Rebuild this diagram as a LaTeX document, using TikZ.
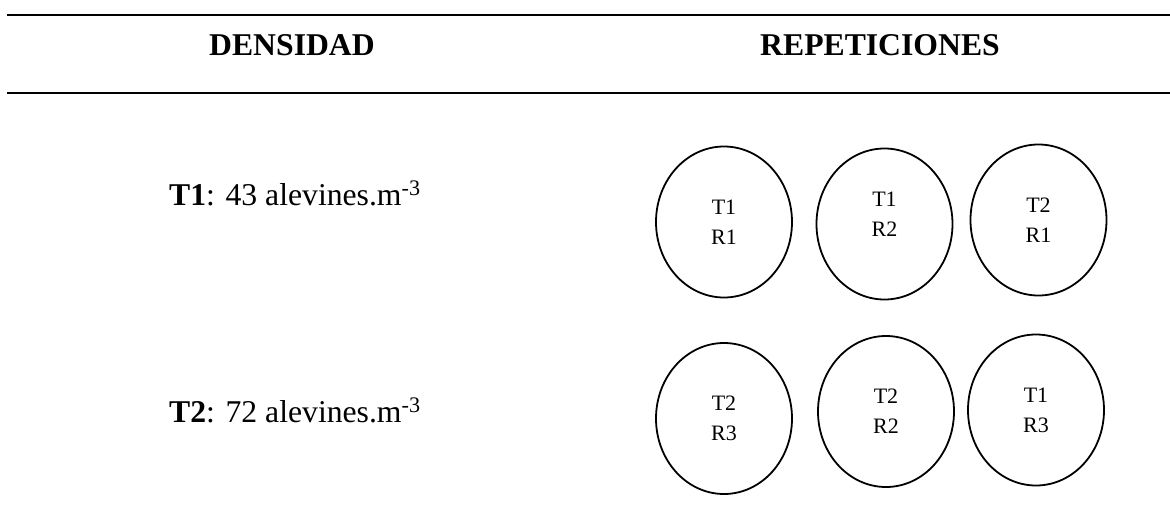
\documentclass[tikz,border=0pt]{standalone}
\usepackage{fontspec}
\setmainfont{Liberation Serif}
\usetikzlibrary{shapes.geometric}
\begin{document}
\begin{tikzpicture}[x=1pt,y=-1pt,
  rule/.style={line width=2.8pt},
  head/.style={font=\fontsize{31.7}{38}\selectfont\bfseries, inner sep=0pt, anchor=base},
  dens/.style={font=\fontsize{31.7}{38}\selectfont, inner sep=0pt, anchor=base west},
  tank/.style={draw, line width=1.8pt, ellipse, minimum width=136pt, minimum height=151pt, inner sep=0pt},
  lbl/.style={font=\fontsize{22}{30}\selectfont, align=center, inner sep=0pt}]
\useasboundingbox (0,0) rectangle (1170,520);
\coordinate (l1a) at (7,15);
\coordinate (l1b) at (1170,15);
\coordinate (l2a) at (7,93);
\coordinate (l2b) at (1170,93);
\draw[rule] (l1a) -- (l1b);
\draw[rule] (l2a) -- (l2b);
\node[head] (hd) at (292,55) {DENSIDAD};
\node[head] (hr) at (880,55) {REPETICIONES};
\node[dens] (d1) at (169,205) {\textbf{T1}: 43 alevines.m\textsuperscript{-3}};
\node[dens] (d2) at (169,422) {\textbf{T2}: 72 alevines.m\textsuperscript{-3}};
\node[tank] (a1) at (724,222) {};
\node[tank] (a2) at (884.5,224) {};
\node[tank] (a3) at (1038.5,220) {};
\node[tank] (b1) at (724,418.5) {};
\node[tank] (b2) at (886,411.5) {};
\node[tank] (b3) at (1036,410) {};
\node[lbl] (ta1) at (a1) {T1\\R1};
\node[lbl] (ta2) at ([yshift=10pt]a2.center) {T1\\R2};
\node[lbl] (ta3) at (a3) {T2\\R1};
\node[lbl] (tb1) at (b1) {T2\\R3};
\node[lbl] (tb2) at (b2) {T2\\R2};
\node[lbl] (tb3) at (b3) {T1\\R3};
\end{tikzpicture}
\end{document}
